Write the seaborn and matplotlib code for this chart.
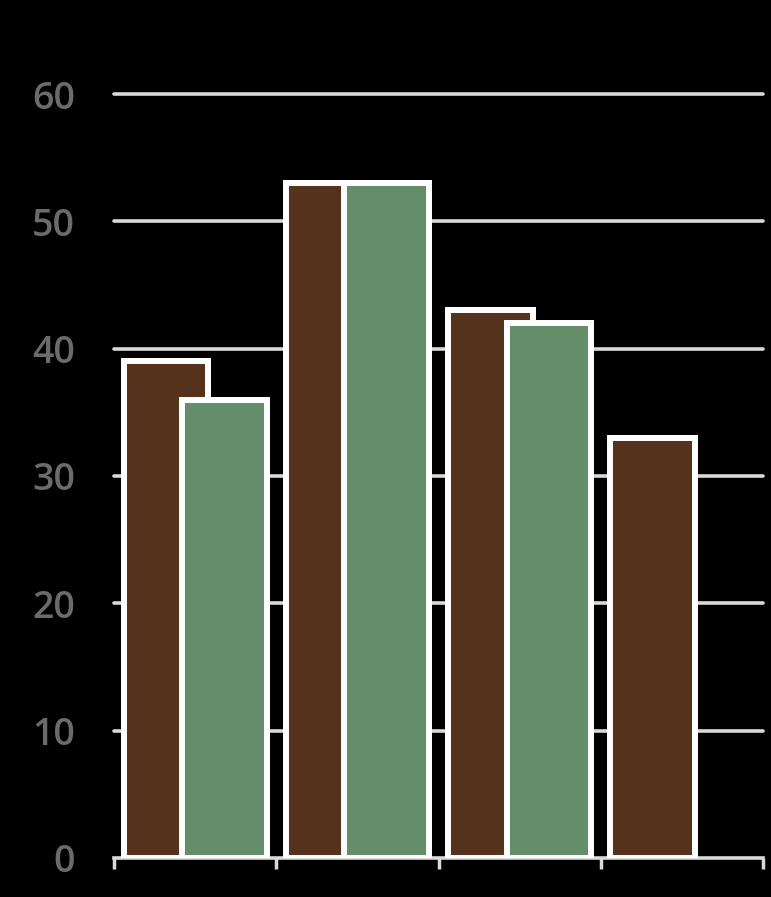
import numpy as np
import pandas as pd
import matplotlib.pyplot as plt
import seaborn as sns

# Data
categories = ['Q1', 'Q2', 'Q3', 'Q4']
series_a = [39, 53, 43, 33]
series_b = [36, 53, 42, np.nan]
series_names = ['A', 'B']
y_ticks = [0, 10, 20, 30, 40, 50, 60]

colors = ['#54321b', '#648d6a']
grid_color = '#d9d9d9'
label_color = '#6b6b6b'

df = pd.DataFrame({
    'category': categories * 2,
    'series': [series_names[0]] * len(categories) + [series_names[1]] * len(categories),
    'value': series_a + series_b,
})

sns.set_style('dark')
plt.rcParams['font.family'] = ['Open Sans', 'DejaVu Sans']

fig = plt.figure(figsize=(7.71, 8.97), dpi=100, facecolor='black')
ax = fig.add_axes([0.1479, 0.0435, 0.8417, 0.8517])
ax.set_facecolor('black')

sns.barplot(data=df, x='category', y='value', hue='series', order=categories,
            hue_order=series_names, palette=colors, saturation=1, width=0.72,
            dodge=True, edgecolor='white', linewidth=4.3, legend=False, ax=ax,
            zorder=3)

# bars overlap in the reference: widen each bar around its own centre
bar_w = 0.52
for p in ax.patches:
    cx = p.get_x() + p.get_width() / 2
    p.set_width(bar_w)
    p.set_x(cx - bar_w / 2)

ax.set_xlim(-0.5, len(categories) - 0.5)
ax.set_ylim(0, 60)
ax.set_yticks(y_ticks)
ax.set_yticklabels([str(t) for t in y_ticks], fontsize=27, fontweight='semibold',
                   color=label_color)
ax.tick_params(axis='y', left=False, length=0, pad=28)

# category boundary ticks underneath the axis
ax.set_xticks(np.arange(len(categories) + 1) - 0.5, minor=True)
ax.tick_params(axis='x', which='minor', bottom=True, length=8, width=2.5,
               color=grid_color, direction='out')
ax.tick_params(axis='x', which='major', bottom=False, length=0, pad=37,
               labelsize=22, labelcolor=label_color)

ax.grid(False)
for y in y_ticks[1:]:
    ax.axhline(y, color=grid_color, linewidth=2.6, zorder=1, clip_on=False)

for side in ['top', 'right', 'left']:
    ax.spines[side].set_visible(False)
ax.spines['bottom'].set_color(grid_color)
ax.spines['bottom'].set_linewidth(2.6)

ax.set_xlabel('')
ax.set_ylabel('')

plt.savefig('out.png', dpi=100, facecolor='black')
